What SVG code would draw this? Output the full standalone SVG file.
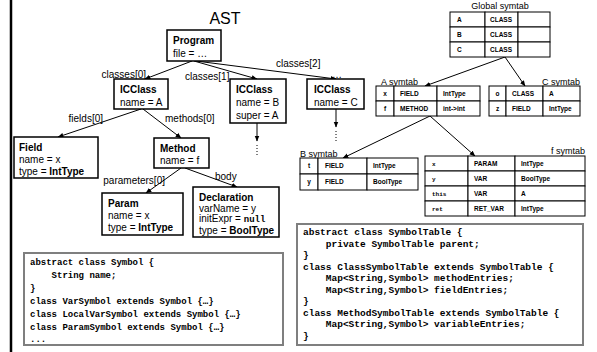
<svg xmlns="http://www.w3.org/2000/svg" width="597" height="352" viewBox="0 0 597 352">
<defs>
<style>
.nd{fill:#fff;stroke:#000;stroke-width:1.5}
.t{font-family:"Liberation Sans",Arial,sans-serif;font-size:10px;fill:#000}
.b{font-weight:bold}
.lb{font-family:"Liberation Sans",Arial,sans-serif;font-size:10px;fill:#000}
.tt{font-family:"Liberation Sans",Arial,sans-serif;font-size:9px;fill:#000}
.tc{fill:#fff;stroke:#000;stroke-width:1}
.tx{font-family:"Liberation Sans",Arial,sans-serif;font-size:6.5px;font-weight:bold;fill:#000}
.mono{font-family:"Liberation Mono","Courier New",monospace;font-size:6px;font-weight:bold;fill:#000}
.code{font-family:"Liberation Mono","Courier New",monospace;font-weight:bold;fill:#000}
.cb{fill:#fff;stroke:#7f7f7f;stroke-width:2}
.ln{fill:none;stroke:#000;stroke-width:1;marker-end:url(#ah)}
</style>
<marker id="ah" viewBox="0 0 10 10" refX="9" refY="5" markerWidth="6" markerHeight="6" orient="auto" markerUnits="userSpaceOnUse">
<path d="M0,1 L10,5 L0,9 z" fill="#000"/>
</marker>
</defs>
<rect width="597" height="352" fill="#fff"/>
<line x1="11" y1="0" x2="11" y2="352" stroke="#000" stroke-width="2.5"/>

<text x="225" y="24" class="t" style="font-size:16px" text-anchor="middle">AST</text>

<g id="connectors">
<line class="ln" x1="192" y1="61" x2="145" y2="79"/>
<line class="ln" x1="194" y1="61" x2="257" y2="79"/>
<line class="ln" x1="196" y1="61" x2="336" y2="79"/>
<line class="ln" x1="141" y1="109" x2="58" y2="137"/>
<line class="ln" x1="143" y1="109" x2="181" y2="138"/>
<line class="ln" x1="181" y1="168" x2="146" y2="193"/>
<line class="ln" x1="185" y1="168" x2="237" y2="187"/>
<line class="ln" x1="257" y1="123" x2="257" y2="141"/>
<line x1="257" y1="145" x2="257" y2="155" stroke="#000" stroke-width="1" stroke-dasharray="1,2"/>
<line class="ln" x1="336" y1="109" x2="336" y2="127"/>
<line x1="336" y1="131" x2="336" y2="141" stroke="#000" stroke-width="1" stroke-dasharray="1,2"/>
<line class="ln" x1="505" y1="57" x2="425" y2="86"/>
<line class="ln" x1="505" y1="57" x2="525" y2="86"/>
<line class="ln" x1="430" y1="116" x2="343" y2="158"/>
<line class="ln" x1="430" y1="116" x2="475" y2="156"/>
<text x="146" y="78" class="lb" text-anchor="end">classes[0]</text>
<text x="185" y="80" class="lb">classes[1]</text>
<text x="276" y="67" class="lb">classes[2]</text>
<text x="103" y="122" class="lb" text-anchor="end">fields[0]</text>
<text x="165" y="122" class="lb">methods[0]</text>
<text x="165" y="184" class="lb" text-anchor="end">parameters[0]</text>
<text x="215" y="180" class="lb">body</text>
</g>

<g id="program">
<rect class="nd" x="167" y="30" width="54" height="31"/>
<text x="173" y="44" class="t b">Program</text>
<text x="173" y="57" class="t">file = …</text>
</g>
<g id="icclassA">
<rect class="nd" x="114" y="79" width="54" height="30"/>
<text x="120" y="93" class="t b">ICClass</text>
<text x="120" y="106" class="t">name = A</text>
</g>
<g id="icclassB">
<rect class="nd" x="230" y="79" width="56" height="44"/>
<text x="236" y="93" class="t b">ICClass</text>
<text x="236" y="106" class="t">name = B</text>
<text x="236" y="119" class="t">super = A</text>
</g>
<g id="icclassC">
<text x="337" y="78" class="t" text-anchor="middle">…</text>
<rect class="nd" x="307" y="79" width="57" height="30"/>
<text x="314" y="93" class="t b">ICClass</text>
<text x="314" y="106" class="t">name = C</text>
</g>
<g id="field">
<rect class="nd" x="14" y="137" width="84" height="41"/>
<text x="19" y="151" class="t b">Field</text>
<text x="19" y="163" class="t">name = x</text>
<text x="19" y="175" class="t">type = <tspan class="b">IntType</tspan></text>
</g>
<g id="method">
<rect class="nd" x="154" y="138" width="55" height="30"/>
<text x="160" y="152" class="t b">Method</text>
<text x="160" y="164" class="t">name = f</text>
</g>
<g id="param">
<rect class="nd" x="102" y="193" width="81" height="42"/>
<text x="108" y="207" class="t b">Param</text>
<text x="108" y="219" class="t">name = x</text>
<text x="108" y="231" class="t">type = <tspan class="b">IntType</tspan></text>
</g>
<g id="declaration">
<rect class="nd" x="193" y="187" width="86" height="50"/>
<text x="199" y="201" class="t b">Declaration</text>
<text x="199" y="212" class="t">varName = y</text>
<text x="199" y="222" class="t">initExpr = <tspan class="code" style="font-size:9px">null</tspan></text>
<text x="199" y="234" class="t">type = <tspan class="b">BoolType</tspan></text>
</g>

<g id="global-symtab">
<text x="500" y="9" class="tt" text-anchor="middle">Global symtab</text>
<rect class="tc" x="450" y="12" width="35" height="15"/><rect class="tc" x="485" y="12" width="33" height="15"/><rect class="tc" x="518" y="12" width="32" height="15"/>
<rect class="tc" x="450" y="27" width="35" height="15"/><rect class="tc" x="485" y="27" width="33" height="15"/><rect class="tc" x="518" y="27" width="32" height="15"/>
<rect class="tc" x="450" y="42" width="35" height="15"/><rect class="tc" x="485" y="42" width="33" height="15"/><rect class="tc" x="518" y="42" width="32" height="15"/>
<text x="457" y="22" class="tx">A</text><text x="490" y="22" class="tx">CLASS</text>
<text x="457" y="37" class="tx">B</text><text x="490" y="37" class="tx">CLASS</text>
<text x="457" y="52" class="tx">C</text><text x="490" y="52" class="tx">CLASS</text>
</g>
<g id="a-symtab">
<text x="381" y="85" class="tt">A symtab</text>
<rect class="tc" x="376" y="86" width="18" height="15"/><rect class="tc" x="394" y="86" width="43" height="15"/><rect class="tc" x="437" y="86" width="43" height="15"/>
<rect class="tc" x="376" y="101" width="18" height="15"/><rect class="tc" x="394" y="101" width="43" height="15"/><rect class="tc" x="437" y="101" width="43" height="15"/>
<text x="385" y="96" class="tx" text-anchor="middle">x</text><text x="400" y="96" class="tx">FIELD</text><text x="443" y="96" class="tx">IntType</text>
<text x="385" y="111" class="tx" text-anchor="middle">f</text><text x="400" y="111" class="tx">METHOD</text><text x="443" y="111" class="tx">int-&gt;int</text>
</g>
<g id="c-symtab">
<text x="580" y="85" class="tt" text-anchor="end">C symtab</text>
<rect class="tc" x="489" y="86" width="17" height="15"/><rect class="tc" x="506" y="86" width="37" height="15"/><rect class="tc" x="543" y="86" width="37" height="15"/>
<rect class="tc" x="489" y="101" width="17" height="15"/><rect class="tc" x="506" y="101" width="37" height="15"/><rect class="tc" x="543" y="101" width="37" height="15"/>
<text x="497.5" y="96" class="tx" text-anchor="middle">o</text><text x="512" y="96" class="tx">CLASS</text><text x="549" y="96" class="tx">A</text>
<text x="497.5" y="111" class="tx" text-anchor="middle">z</text><text x="512" y="111" class="tx">FIELD</text><text x="549" y="111" class="tx">IntType</text>
</g>
<g id="b-symtab">
<text x="300" y="157" class="tt">B symtab</text>
<rect class="tc" x="300" y="158" width="18" height="16"/><rect class="tc" x="318" y="158" width="49" height="16"/><rect class="tc" x="367" y="158" width="51" height="16"/>
<rect class="tc" x="300" y="174" width="18" height="16"/><rect class="tc" x="318" y="174" width="49" height="16"/><rect class="tc" x="367" y="174" width="51" height="16"/>
<text x="309" y="168" class="tx" text-anchor="middle">t</text><text x="325" y="168" class="tx">FIELD</text><text x="373" y="168" class="tx">IntType</text>
<text x="309" y="184" class="tx" text-anchor="middle">y</text><text x="325" y="184" class="tx">FIELD</text><text x="373" y="184" class="tx">BoolType</text>
</g>
<g id="f-symtab">
<text x="585" y="154" class="tt" text-anchor="end">f symtab</text>
<rect class="tc" x="425" y="156" width="43" height="15"/><rect class="tc" x="468" y="156" width="47" height="15"/><rect class="tc" x="515" y="156" width="70" height="15"/>
<rect class="tc" x="425" y="171" width="43" height="15"/><rect class="tc" x="468" y="171" width="47" height="15"/><rect class="tc" x="515" y="171" width="70" height="15"/>
<rect class="tc" x="425" y="186" width="43" height="15"/><rect class="tc" x="468" y="186" width="47" height="15"/><rect class="tc" x="515" y="186" width="70" height="15"/>
<rect class="tc" x="425" y="201" width="43" height="15"/><rect class="tc" x="468" y="201" width="47" height="15"/><rect class="tc" x="515" y="201" width="70" height="15"/>
<text x="432" y="166" class="mono">x</text><text x="474" y="166" class="tx">PARAM</text><text x="521" y="166" class="tx">IntType</text>
<text x="432" y="181" class="mono">y</text><text x="474" y="181" class="tx">VAR</text><text x="521" y="181" class="tx">BoolType</text>
<text x="432" y="196" class="mono">this</text><text x="474" y="196" class="tx">VAR</text><text x="521" y="196" class="tx">A</text>
<text x="432" y="211" class="mono">ret</text><text x="474" y="211" class="tx">RET_VAR</text><text x="521" y="211" class="tx">IntType</text>
</g>

<g id="symbol-code">
<rect class="cb" x="24" y="253" width="259" height="92"/>
<text class="code" style="font-size:9px">
<tspan x="30" y="265">abstract class Symbol {</tspan>
<tspan x="30" y="278" xml:space="preserve">    String name;</tspan>
<tspan x="30" y="291">}</tspan>
<tspan x="30" y="304">class VarSymbol extends Symbol {…}</tspan>
<tspan x="30" y="317">class LocalVarSymbol extends Symbol {…}</tspan>
<tspan x="30" y="330">class ParamSymbol extends Symbol {…}</tspan>
<tspan x="30" y="342">...</tspan>
</text>
</g>
<g id="symtab-code">
<rect class="cb" x="297" y="224" width="286" height="121"/>
<text class="code" style="font-size:9.5px">
<tspan x="303" y="235">abstract class SymbolTable {</tspan>
<tspan x="303" y="246.5" xml:space="preserve">    private SymbolTable parent;</tspan>
<tspan x="303" y="258">}</tspan>
<tspan x="303" y="269.5">class ClassSymbolTable extends SymbolTable {</tspan>
<tspan x="303" y="281" xml:space="preserve">    Map&lt;String,Symbol&gt; methodEntries;</tspan>
<tspan x="303" y="292.5" xml:space="preserve">    Map&lt;String,Symbol&gt; fieldEntries;</tspan>
<tspan x="303" y="304">}</tspan>
<tspan x="303" y="315.5">class MethodSymbolTable extends SymbolTable {</tspan>
<tspan x="303" y="327" xml:space="preserve">    Map&lt;String,Symbol&gt; variableEntries;</tspan>
<tspan x="303" y="338.5">}</tspan>
</text>
</g>
</svg>
